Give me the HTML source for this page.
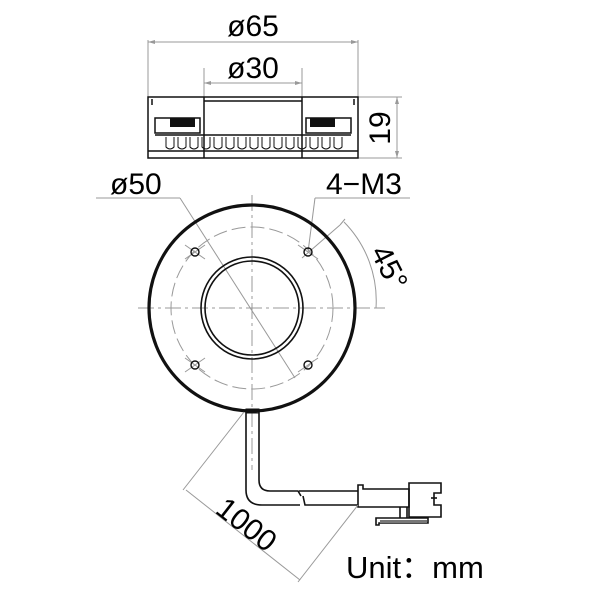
<!DOCTYPE html>
<html><head><style>body{margin:0;background:#fff}svg{display:block}</style></head><body>
<svg width="600" height="600" viewBox="0 0 600 600" xmlns="http://www.w3.org/2000/svg" font-family="Liberation Sans, sans-serif">
<g stroke="#999" stroke-width="1" fill="none">
<line x1="148" y1="40" x2="148" y2="98"/><line x1="358" y1="40" x2="358" y2="98"/>
<line x1="148" y1="42" x2="358" y2="42"/>
<line x1="204" y1="68" x2="204" y2="98"/><line x1="302" y1="68" x2="302" y2="98"/>
<line x1="204" y1="83" x2="302" y2="83"/>
<line x1="358" y1="97" x2="402" y2="97"/><line x1="358" y1="158" x2="402" y2="158"/>
<line x1="397" y1="97" x2="397" y2="158"/>
</g>
<g fill="#999"><path d="M148 42l7-2v4z M358 42l-7-2v4z M204 83l7-2v4z M302 83l-7-2v4z M397 97l-2 7h4z M397 158l-2-7h4z"/></g>
<text x="253" y="36" font-size="30" text-anchor="middle">ø65</text>
<text x="253" y="78" font-size="30" text-anchor="middle">ø30</text>
<text transform="translate(390,128) rotate(-90)" font-size="30" text-anchor="middle">19</text>
<g stroke="#111" stroke-width="1.5" fill="none">
<path d="M148 97 H358 V158 H148 Z"/>
<line x1="148" y1="151" x2="358" y2="151"/>
<line x1="204" y1="97" x2="204" y2="158"/><line x1="302" y1="97" x2="302" y2="158"/>
<line x1="204" y1="101" x2="302" y2="101"/>
<path d="M152 99 V105 M354 99 V105"/>
<path d="M155 118 H200 V133 H155 Z M306 118 H351 V133 H306 Z"/>
<line x1="155" y1="135" x2="351" y2="135"/>
</g>
<rect x="170" y="118" width="25" height="9" fill="#111"/>
<rect x="310" y="118" width="25" height="9" fill="#111"/>
<g stroke="#111" stroke-width="1" fill="none">
<path d="M166 137 v10 q4 4 8 0 v-10 M178 137 v10 q4 4 8 0 v-10 M190 137 v10 q4 4 8 0 v-10 M202 137 v10 q4 4 8 0 v-10 M214 137 v10 q4 4 8 0 v-10 M226 137 v10 q4 4 8 0 v-10 M238 137 v10 q4 4 8 0 v-10 M250 137 v10 q4 4 8 0 v-10 M262 137 v10 q4 4 8 0 v-10 M274 137 v10 q4 4 8 0 v-10 M286 137 v10 q4 4 8 0 v-10 M298 137 v10 q4 4 8 0 v-10 M310 137 v10 q4 4 8 0 v-10 M322 137 v10 q4 4 8 0 v-10 M334 137 v10 q4 4 8 0 v-10"/>
</g>
<g stroke="#999" stroke-width="1" fill="none">
<line x1="252" y1="195" x2="252" y2="470" stroke-dasharray="16,4,3,4"/>
<line x1="138" y1="308" x2="385" y2="308" stroke-dasharray="16,4,3,4"/>
<circle cx="252" cy="308" r="81" stroke-dasharray="14,5"/>
<line x1="96" y1="198" x2="180" y2="198"/>
<line x1="180" y1="198" x2="295" y2="378"/>
<line x1="315" y1="198" x2="410" y2="198"/>
<line x1="315" y1="198" x2="308" y2="252"/>
<line x1="302" y1="258" x2="340" y2="225"/>
<line x1="340" y1="225" x2="345" y2="219"/>
<path d="M344 222 A112 112 0 0 1 376 308"/>
<line x1="376" y1="308" x2="385" y2="308"/>
<line x1="185" y1="245" x2="205" y2="259"/><line x1="185" y1="259" x2="205" y2="245"/>
<line x1="298" y1="245" x2="318" y2="259"/>
<line x1="185" y1="358" x2="205" y2="372"/><line x1="185" y1="372" x2="205" y2="358"/>
<line x1="298" y1="372" x2="318" y2="358"/>
</g>
<text x="110" y="194" font-size="30">ø50</text>
<text x="326" y="194" font-size="30">4−M3</text>
<text transform="translate(370,252) rotate(63)" font-size="30">45°</text>
<g stroke="#111" fill="none">
<circle cx="252" cy="308" r="103" stroke-width="3.2"/>
<circle cx="252" cy="308" r="51" stroke-width="1.6"/>
<circle cx="252" cy="308" r="47" stroke-width="1.6"/>
<g stroke-width="1.4"><circle cx="195" cy="252" r="4"/><circle cx="308" cy="252" r="4"/><circle cx="195" cy="365" r="4"/><circle cx="308" cy="365" r="4"/></g>
</g>
<g stroke="#111" stroke-width="1.6" fill="none">
<path d="M246 411 V490 Q246 505 262 505 H300"/>
<path d="M259 411 V480 Q259 491 270 491 H298 L301 496"/>
<path d="M303 496 L305 505 H358"/>
<path d="M299 491 H358"/>
<rect x="246" y="409" width="13" height="4" stroke-width="1"/>
<path d="M358 507 V485 H363 V489 H409 V507 Z"/>
<path d="M409 483 H441 V493 H434 V505 H441 V517 H409 Z"/>
<path d="M431 498 H437"/>
<path d="M376 525 V518 H428 V523 H379 V525 Z"/>
<path d="M400 507 V518 M407 507 V518"/>
</g>
<rect x="380" y="520" width="47" height="3" fill="#777"/>
<g stroke="#999" stroke-width="1" fill="none">
<line x1="244" y1="412" x2="183" y2="490"/>
<line x1="358" y1="505" x2="298" y2="582"/>
<line x1="186" y1="490" x2="300" y2="580"/>
</g>
<text transform="translate(214,512) rotate(38)" font-size="30">1000</text>
<text x="346" y="578" font-size="31">Unit：mm</text>
</svg>
</body></html>
